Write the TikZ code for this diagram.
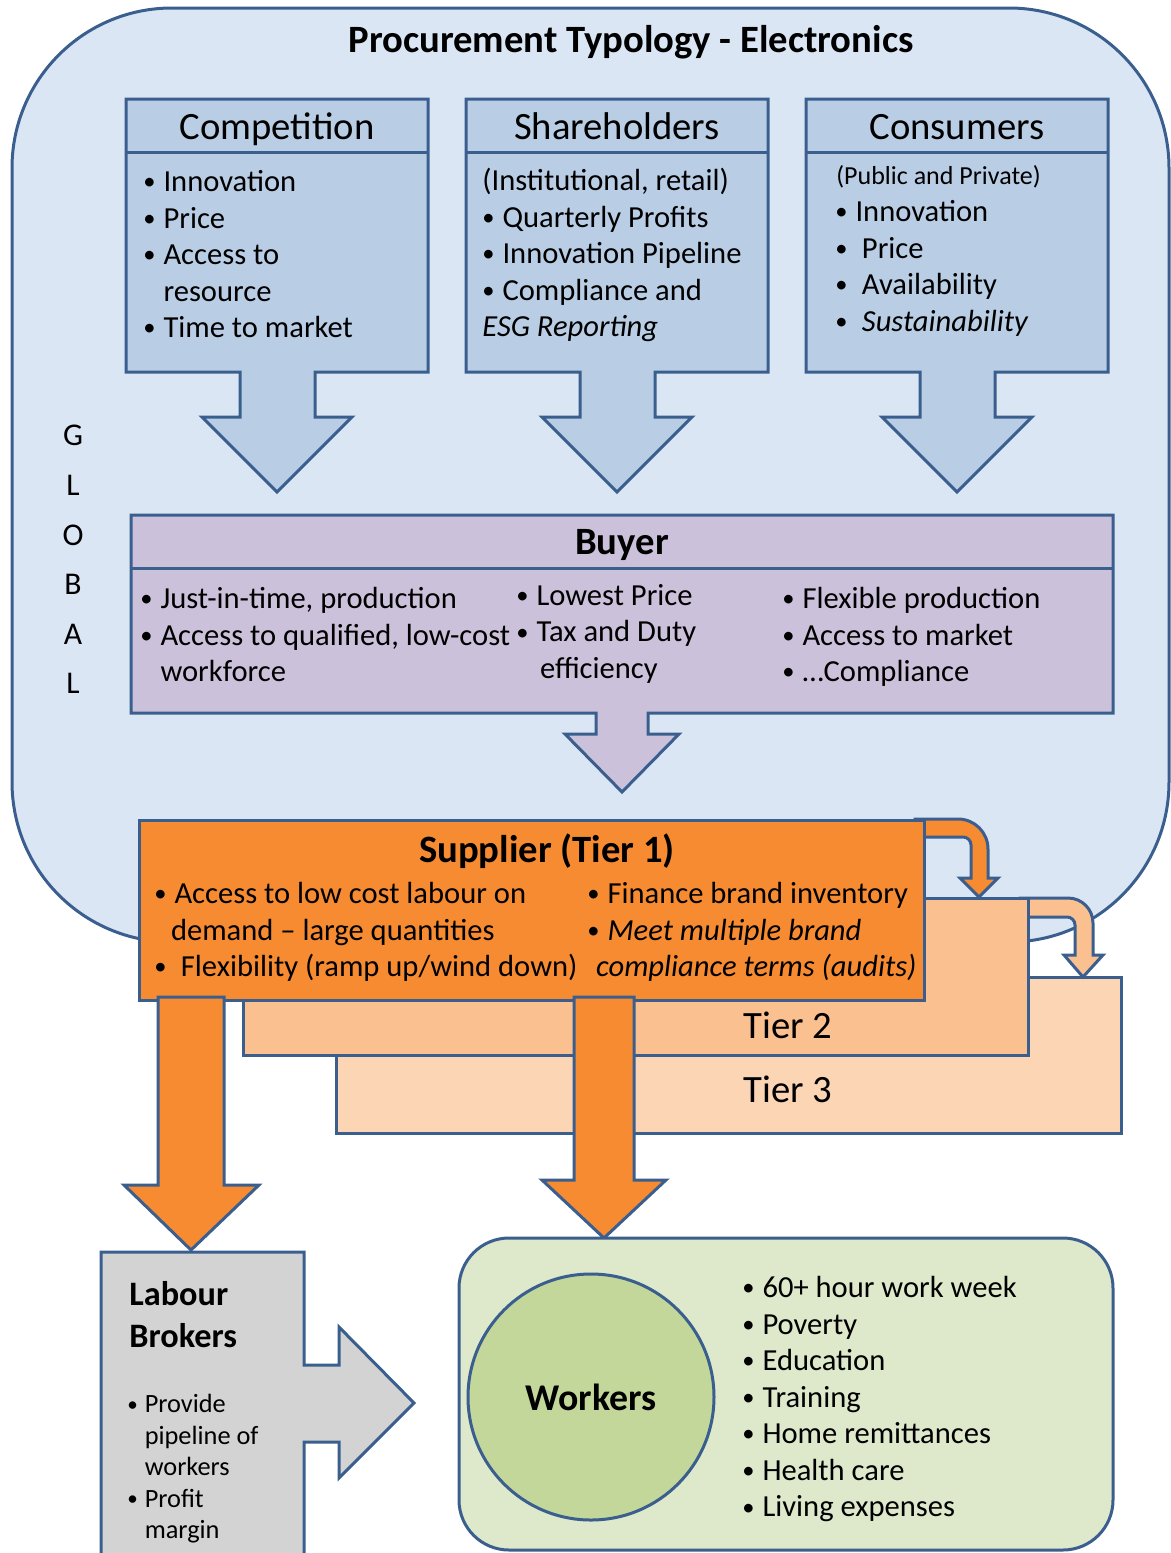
\documentclass[tikz,border=0pt]{standalone}
\usepackage{fontspec}
\usepackage{graphicx}
\setmainfont{Carlito}
\usetikzlibrary{positioning}
\definecolor{edge}{HTML}{3A5F8E}
\definecolor{globalbg}{HTML}{DBE6F4}
\definecolor{stake}{HTML}{B9CDE5}
\definecolor{buyerc}{HTML}{CCC1DA}
\definecolor{tierone}{HTML}{F68B32}
\definecolor{tiertwo}{HTML}{FAC090}
\definecolor{tierthree}{HTML}{FCD5B5}
\definecolor{broker}{HTML}{D4D3D3}
\definecolor{workbg}{HTML}{DEE8CB}
\definecolor{workc}{HTML}{C4D79B}
\newcommand\dotmark{\raisebox{0.06em}{\scalebox{0.8}{\textbullet}}}
\newcommand\bl{\makebox[0.66em][l]{\dotmark}}
\newcommand\blw{\makebox[0.87em][l]{\dotmark}}
\newcommand\ind{\hphantom{\bl}}
\tikzset{
  blk/.style={draw=edge, line width=0.6mm},
  hdr/.style={font=\fontsize{22}{26}\selectfont, anchor=base, inner sep=0pt},
  ttl/.style={font=\fontsize{22}{26}\selectfont\bfseries, anchor=base, inner sep=0pt},
  lst/.style={font=\fontsize{17.4}{20.8}\selectfont, align=left, anchor=north west,
    inner sep=0pt, execute at begin node=\strut},
  note/.style={font=\fontsize{14.8}{17}\selectfont, anchor=base west, inner sep=0pt},
}

\begin{document}
\begin{tikzpicture}[x=0.2mm, y=-0.2mm]
  \useasboundingbox (0,0) rectangle (1171,1553);

  \draw[blk, fill=globalbg, rounded corners=32mm] (12,8) rectangle (1169,942);
  \node[ttl] (title) at (631,52) {Procurement Typology - Electronics};
  \node[lst, anchor=north, align=center, font=\fontsize{18}{28.2}\selectfont] (glob) at (73,425) {G\\L\\O\\B\\A\\L};

  \draw[blk, fill=stake] (126,99) -- (428,99) -- (428,372) -- (315,372) -- (315,417) -- (352,417)
    -- (277,492) -- (202,417) -- (240,417) -- (240,372) -- (126,372) -- cycle;
  \draw[blk] (126,152) -- (428,152);
  \draw[blk, fill=stake] (466,99) -- (768,99) -- (768,372) -- (655,372) -- (655,417) -- (692,417)
    -- (617,492) -- (542,417) -- (580,417) -- (580,372) -- (466,372) -- cycle;
  \draw[blk] (466,152) -- (768,152);
  \draw[blk, fill=stake] (806,99) -- (1108,99) -- (1108,372) -- (995,372) -- (995,417) -- (1032,417)
    -- (957,492) -- (882,417) -- (920,417) -- (920,372) -- (806,372) -- cycle;
  \draw[blk] (806,152) -- (1108,152);

  \node[hdr] (comp) at (277,139) {Competition};
  \node[hdr] (share) at (617,139) {Shareholders};
  \node[hdr] (cons) at (957,139) {Consumers};
  \node[lst] (comp-list) at (143,170) {\bl Innovation\\ \bl Price\\ \bl Access to\\ \ind resource\\ \bl Time to market};
  \node[lst] (share-list) at (482,168) {(Institutional, retail)\\ \bl Quarterly Profits\\ \bl Innovation Pipeline\\
    \bl Compliance and\\ \textit{ESG Reporting}};
  \node[note] (cons-note) at (836,184) {(Public and Private)};
  \node[lst] (cons-list) at (835,200) {\bl Innovation\\ \blw Price\\ \blw Availability\\ \blw \textit{Sustainability}};

  \draw[blk, fill=buyerc] (131,515) -- (1113,515) -- (1113,713) -- (648,713) -- (648,734) -- (679,734)
    -- (622,792) -- (565,734) -- (596,734) -- (596,713) -- (131,713) -- cycle;
  \draw[blk] (131,568) -- (1113,568);
  \node[ttl] (buyer) at (622,554) {Buyer};
  \node[lst] (buy-a) at (140,587) {\bl Just-in-time, production\\ \bl Access to qualified, low-cost\\ \ind workforce};
  \node[lst] (buy-b) at (516,584) {\bl Lowest Price\\ \bl Tax and Duty\\ \ind\kern2pt efficiency};
  \node[lst] (buy-c) at (782,587) {\bl Flexible production\\ \bl Access to market\\ \bl …Compliance};

  \draw[blk, fill=tierthree] (336,977) rectangle (1121,1133);
  \draw[blk, fill=tiertwo] (1020,898) [rounded corners=5mm] -- (1093,898) [sharp corners] -- (1093,955)
    -- (1103,955) -- (1083,977) -- (1064,955) -- (1075,955) [rounded corners=1.6mm] -- (1075,917)
    [sharp corners] -- (1020,917) -- cycle;
  \draw[blk, fill=tiertwo] (243,898) rectangle (1028,1055);
  \draw[blk, fill=tierone] (915,819) [rounded corners=6mm] -- (988,819) [sharp corners] -- (988,878)
    -- (998,878) -- (979,897) -- (960,878) -- (971,878) [rounded corners=1.6mm] -- (971,837)
    [sharp corners] -- (915,837) -- cycle;
  \draw[blk, fill=tierone] (139,820) rectangle (924,1000);
  \node[hdr] (tier2) at (788,1038) {Tier 2};
  \node[hdr] (tier3) at (788,1102) {Tier 3};
  \node[ttl] (sup) at (547,862) {Supplier (Tier 1)};
  \node[lst] (sup-a) at (154,882) {\bl Access to low cost labour on\\ \ind\kern-2pt demand – large quantities\\
    \blw Flexibility (ramp up/wind down)};
  \node[lst] (sup-b) at (587,882) {\bl Finance brand inventory\\ \bl \textit{Meet multiple brand}\\
    \kern5pt\textit{compliance terms (audits)}};

  \draw[blk, fill=tierone] (158,997) -- (224,997) -- (224,1185) -- (259,1185) -- (191,1250)
    -- (124,1185) -- (158,1185) -- cycle;
  \draw[blk, fill=tierone] (574,997) -- (634,997) -- (634,1180) -- (666,1180) -- (604,1238)
    -- (542,1180) -- (574,1180) -- cycle;

  \draw[blk, fill=broker] (101,1252) -- (304,1252) -- (304,1365) -- (339,1365) -- (339,1327)
    -- (414,1403) -- (339,1478) -- (339,1442) -- (304,1442) -- (304,1565) -- (101,1565) -- cycle;
  \node[lst, font=\fontsize{19.5}{23.9}\selectfont\bfseries] (broker) at (129,1281) {Labour\\ Brokers};
  \node[lst, font=\fontsize{15}{17.9}\selectfont] (broker-list) at (127,1394) {\bl Provide\\ \ind pipeline of\\
    \ind workers\\ \bl Profit\\ \ind margin};

  \draw[blk, fill=workbg, rounded corners=10mm] (459,1238) rectangle (1113,1550);
  \node[circle, blk, fill=workc, minimum size=49.2mm, inner sep=0pt,
    font=\fontsize{21.5}{26}\selectfont\bfseries] (wk) at (591,1397) {Workers};
  \node[lst] (wk-list) at (742,1276) {\bl 60+ hour work week\\ \bl Poverty\\ \bl Education\\ \bl Training\\
    \bl Home remittances\\ \bl Health care\\ \bl Living expenses};
\end{tikzpicture}
\end{document}
